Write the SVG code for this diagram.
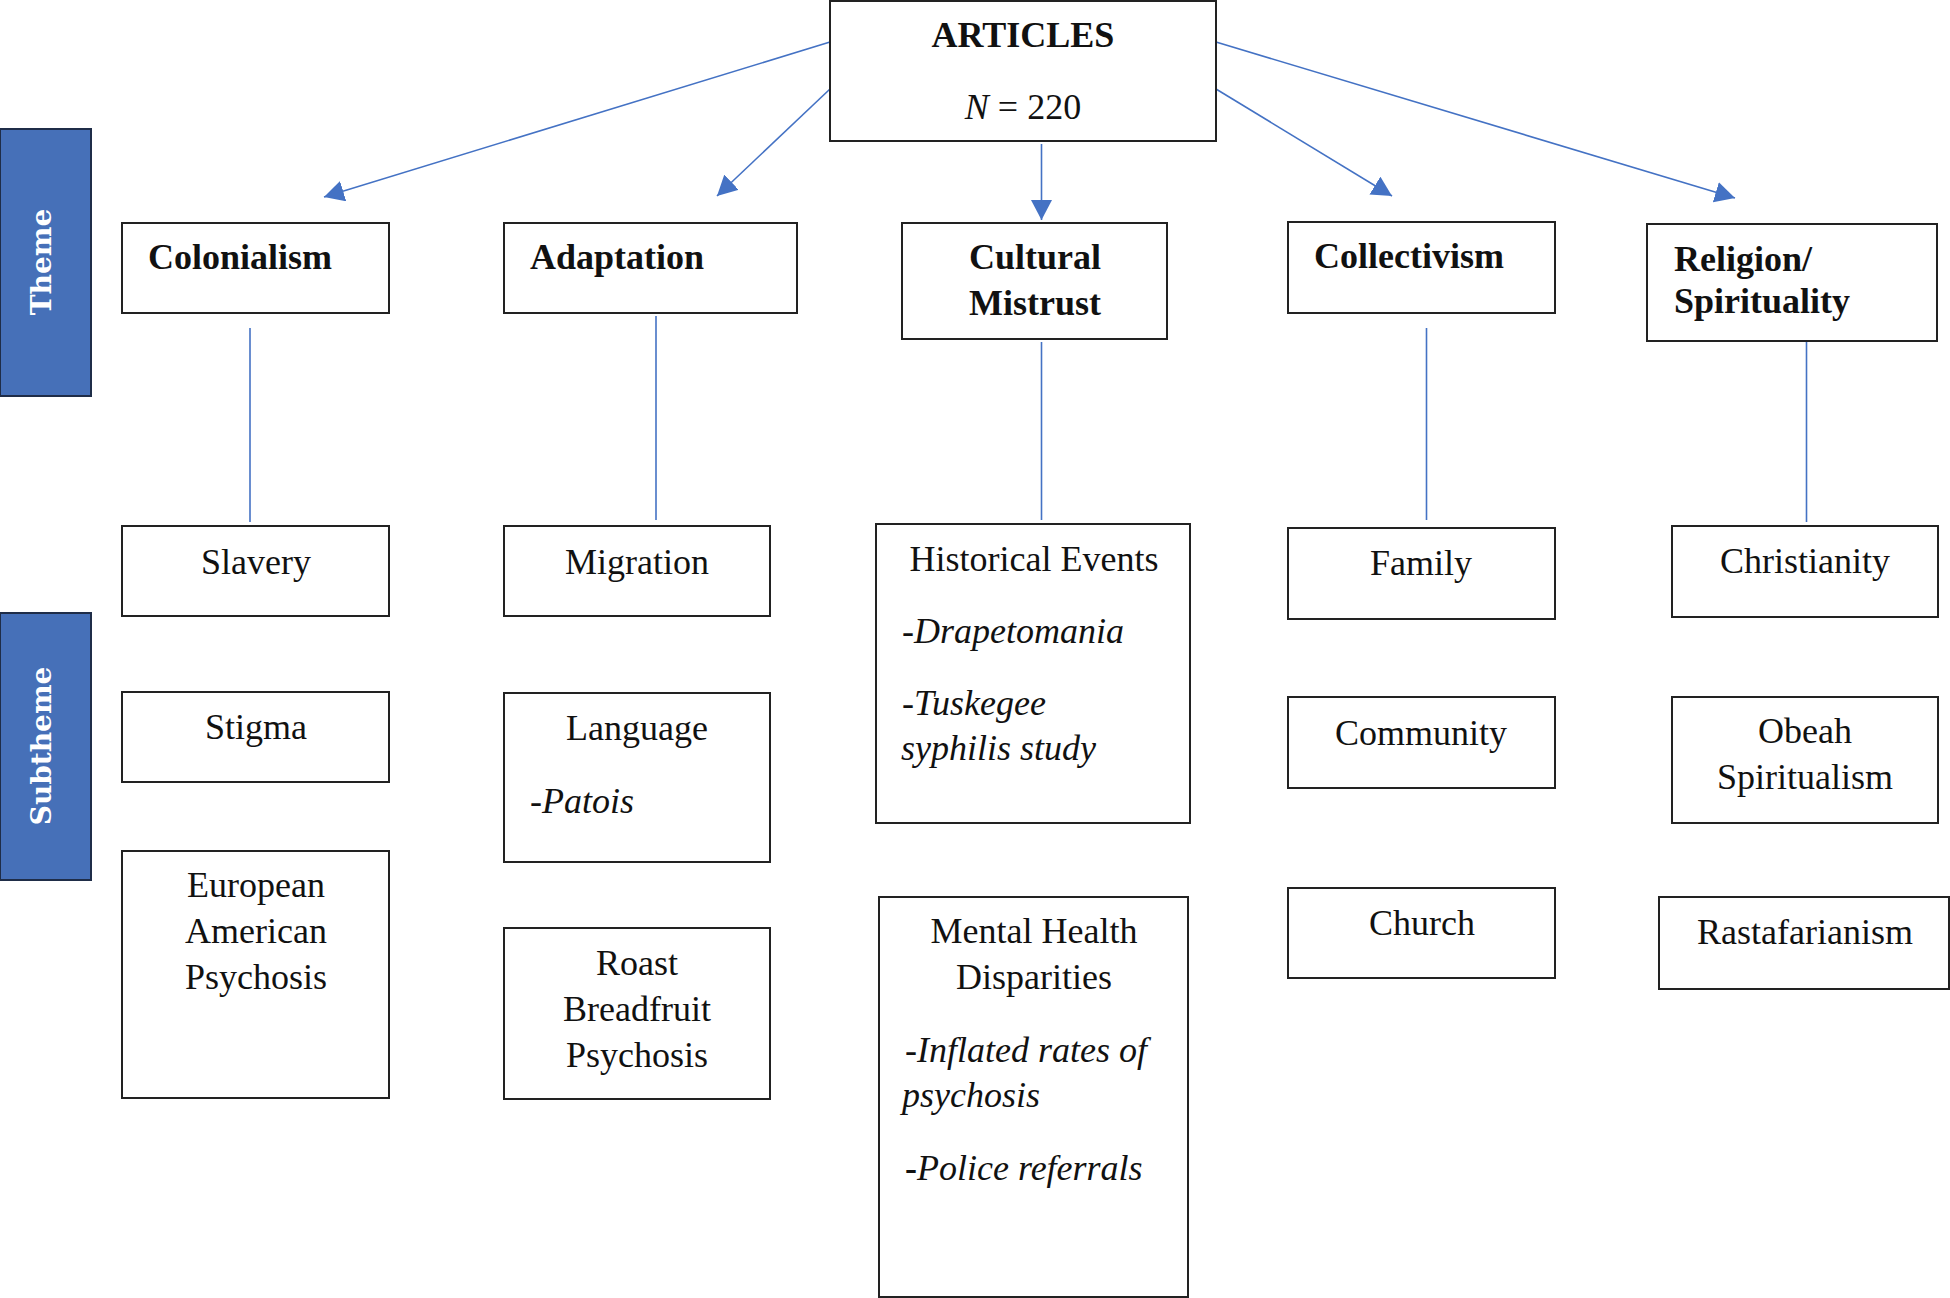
<svg xmlns="http://www.w3.org/2000/svg" width="1950" height="1298" viewBox="0 0 1950 1298">
<style>
.box{fill:#fff;stroke:#222;stroke-width:2}
.side{fill:#4670b8;stroke:#1f2d48;stroke-width:2}
.t{font-family:"Liberation Serif","Times New Roman",serif;font-size:36px;fill:#111}
.b{font-weight:bold}
.i{font-style:italic}
.c{text-anchor:middle}
.side-t{font-family:"DejaVu Serif",serif;font-weight:bold;font-size:28px;fill:#fff;text-anchor:middle}
.ln{stroke:#4472c4;stroke-width:1.6;fill:none}
</style>
<defs>
<marker id="ah" viewBox="0 0 20 21" refX="20" refY="10.5" markerWidth="20" markerHeight="21" markerUnits="userSpaceOnUse" orient="auto">
<path d="M0,0 L20,10.5 L0,21 z" fill="#4472c4"/>
</marker>
</defs>
<g id="connectors">
<line class="ln" x1="830" y1="42" x2="324" y2="197" marker-end="url(#ah)"/>
<line class="ln" x1="830" y1="89" x2="717" y2="196" marker-end="url(#ah)"/>
<line class="ln" x1="1041.5" y1="144" x2="1041.5" y2="220" marker-end="url(#ah)"/>
<line class="ln" x1="1216" y1="89" x2="1392" y2="196" marker-end="url(#ah)"/>
<line class="ln" x1="1216" y1="42" x2="1735" y2="198" marker-end="url(#ah)"/>
<line class="ln" x1="250" y1="328" x2="250" y2="522"/>
<line class="ln" x1="656" y1="316" x2="656" y2="520"/>
<line class="ln" x1="1041.5" y1="342" x2="1041.5" y2="520"/>
<line class="ln" x1="1426.5" y1="328" x2="1426.5" y2="520"/>
<line class="ln" x1="1806.5" y1="342" x2="1806.5" y2="522"/>
</g>
<g id="theme-label">
<rect class="side" x="0" y="129" width="91" height="267"/>
<text class="side-t" transform="translate(51,262) rotate(-90)">Theme</text>
</g>
<g id="subtheme-label">
<rect class="side" x="0" y="613" width="91" height="267"/>
<text class="side-t" transform="translate(51,746) rotate(-90)">Subtheme</text>
</g>
<g id="articles">
<rect class="box" x="830" y="1" width="386" height="140"/>
<text class="t b c" x="1023" y="47">ARTICLES</text>
<text class="t c" x="1023" y="119"><tspan class="i">N</tspan> = 220</text>
</g>
<g id="colonialism">
<rect class="box" x="122" y="223" width="267" height="90"/>
<text class="t b" x="148" y="269">Colonialism</text>
</g>
<g id="adaptation">
<rect class="box" x="504" y="223" width="293" height="90"/>
<text class="t b" x="530" y="269">Adaptation</text>
</g>
<g id="cultural-mistrust">
<rect class="box" x="902" y="223" width="265" height="116"/>
<text class="t b" x="969" y="269">Cultural</text>
<text class="t b" x="969" y="315">Mistrust</text>
</g>
<g id="collectivism">
<rect class="box" x="1288" y="222" width="267" height="91"/>
<text class="t b" x="1314" y="268">Collectivism</text>
</g>
<g id="religion">
<rect class="box" x="1647" y="224" width="290" height="117"/>
<text class="t b" x="1674" y="271">Religion/</text>
<text class="t b" x="1674" y="313">Spirituality</text>
</g>
<g id="slavery">
<rect class="box" x="122" y="526" width="267" height="90"/>
<text class="t c" x="256" y="574">Slavery</text>
</g>
<g id="stigma">
<rect class="box" x="122" y="692" width="267" height="90"/>
<text class="t c" x="256" y="739">Stigma</text>
</g>
<g id="european">
<rect class="box" x="122" y="851" width="267" height="247"/>
<text class="t c" x="256" y="897">European</text>
<text class="t c" x="256" y="943">American</text>
<text class="t c" x="256" y="989">Psychosis</text>
</g>
<g id="migration">
<rect class="box" x="504" y="526" width="266" height="90"/>
<text class="t c" x="637" y="574">Migration</text>
</g>
<g id="language">
<rect class="box" x="504" y="693" width="266" height="169"/>
<text class="t c" x="637" y="740">Language</text>
<text class="t i" x="530" y="813">-Patois</text>
</g>
<g id="roast">
<rect class="box" x="504" y="928" width="266" height="171"/>
<text class="t c" x="637" y="975">Roast</text>
<text class="t c" x="637" y="1021">Breadfruit</text>
<text class="t c" x="637" y="1067">Psychosis</text>
</g>
<g id="historical">
<rect class="box" x="876" y="524" width="314" height="299"/>
<text class="t c" x="1034" y="571">Historical Events</text>
<text class="t i" x="902" y="643">-Drapetomania</text>
<text class="t i" x="902" y="715">-Tuskegee</text>
<text class="t i" x="901" y="760">syphilis study</text>
</g>
<g id="mental-health">
<rect class="box" x="879" y="897" width="309" height="400"/>
<text class="t c" x="1034" y="943">Mental Health</text>
<text class="t c" x="1034" y="989">Disparities</text>
<text class="t i" x="905" y="1062">-Inflated rates of</text>
<text class="t i" x="902" y="1107">psychosis</text>
<text class="t i" x="905" y="1180"><tspan class="b" font-style="normal">-</tspan>Police referrals</text>
</g>
<g id="family">
<rect class="box" x="1288" y="528" width="267" height="91"/>
<text class="t c" x="1421" y="575">Family</text>
</g>
<g id="community">
<rect class="box" x="1288" y="697" width="267" height="91"/>
<text class="t c" x="1421" y="745">Community</text>
</g>
<g id="church">
<rect class="box" x="1288" y="888" width="267" height="90"/>
<text class="t c" x="1422" y="935">Church</text>
</g>
<g id="christianity">
<rect class="box" x="1672" y="526" width="266" height="91"/>
<text class="t c" x="1805" y="573">Christianity</text>
</g>
<g id="obeah">
<rect class="box" x="1672" y="697" width="266" height="126"/>
<text class="t c" x="1805" y="743">Obeah</text>
<text class="t c" x="1805" y="789">Spiritualism</text>
</g>
<g id="rastafarianism">
<rect class="box" x="1659" y="897" width="290" height="92"/>
<text class="t c" x="1805" y="944">Rastafarianism</text>
</g>
</svg>
